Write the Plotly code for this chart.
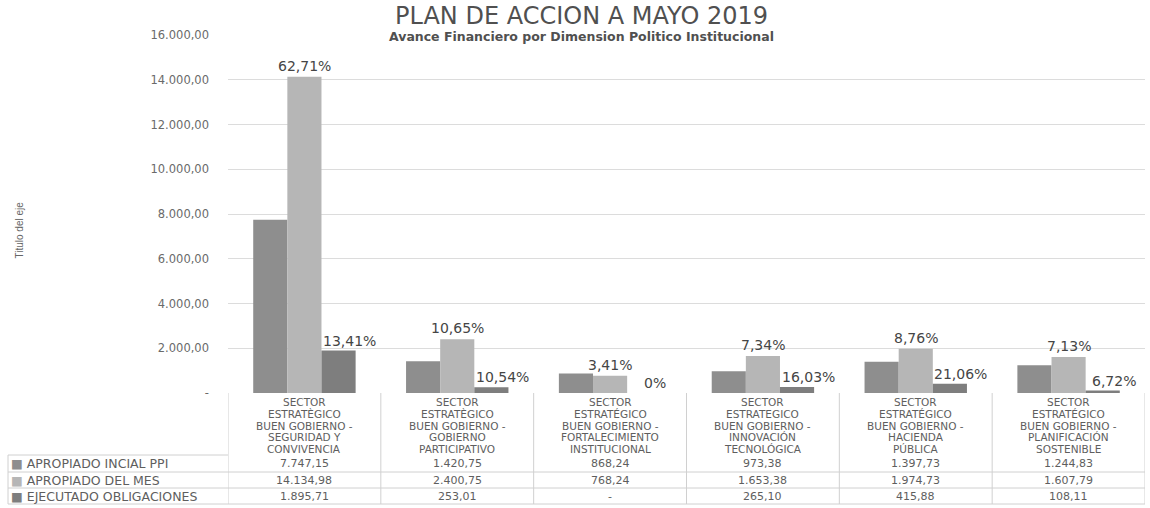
import plotly.graph_objects as go

categories = [
    "SECTOR<br>ESTRATÈGICO<br>BUEN GOBIERNO -<br>SEGURIDAD Y<br>CONVIVENCIA",
    "SECTOR<br>ESTRATÈGICO<br>BUEN GOBIERNO -<br>GOBIERNO<br>PARTICIPATIVO",
    "SECTOR<br>ESTRATÉGICO<br>BUEN GOBIERNO -<br>FORTALECIMIENTO<br>INSTITUCIONAL",
    "SECTOR<br>ESTRATEGICO<br>BUEN GOBIERNO -<br>INNOVACIÓN<br>TECNOLÓGICA",
    "SECTOR<br>ESTRATÉGICO<br>BUEN GOBIERNO -<br>HACIENDA<br>PÚBLICA",
    "SECTOR<br>ESTRATÉGICO<br>BUEN GOBIERNO -<br>PLANIFICACIÓN<br>SOSTENIBLE",
]
series_names = ["APROPIADO INCIAL PPI", "APROPIADO DEL MES", "EJECUTADO OBLIGACIONES"]
apropiado_inicial = [7747.15, 1420.75, 868.24, 973.38, 1397.73, 1244.83]
apropiado_mes = [14134.98, 2400.75, 768.24, 1653.38, 1974.73, 1607.79]
ejecutado = [1895.71, 253.01, 0, 265.10, 415.88, 108.11]
pct_mes = ["62,71%", "10,65%", "3,41%", "7,34%", "8,76%", "7,13%"]
pct_ejec = ["13,41%", "10,54%", "0%", "16,03%", "21,06%", "6,72%"]
y_ticks = [0, 2000, 4000, 6000, 8000, 10000, 12000, 14000, 16000]

colors = ["#8e8e8e", "#b6b6b6", "#7e7e7e"]
series = [apropiado_inicial, apropiado_mes, ejecutado]


def fmt(v):
    if v == 0:
        return "-"
    s = "{:,.2f}".format(v)
    return s.replace(",", "X").replace(".", ",").replace("X", ".")


W, H = 1150, 508
PLOT_L, PLOT_R, PLOT_T, PLOT_B = 228, 1145, 35, 393
ML, MR, MT, MB = PLOT_L, W - PLOT_R, PLOT_T, H - PLOT_B
PW, PH = PLOT_R - PLOT_L, PLOT_B - PLOT_T


def py(p):
    return (PLOT_B - p) / PH


def px(p):
    return (p - PLOT_L) / PW


xs = list(range(len(categories)))
bargap = 0.33
bw = (1 - bargap) / 3

fig = go.Figure()
for name, vals, col in zip(series_names, series, colors):
    fig.add_trace(go.Bar(x=xs, y=vals, name=name, marker=dict(color=col, line=dict(width=0)),
                         showlegend=False))

ann = []
text_col = "#5e5e5e"
FONT = "DejaVu Sans"
# percentage labels
for i in xs:
    ann.append(dict(x=i, y=apropiado_mes[i], xref="x", yref="y", text=pct_mes[i], showarrow=False,
                    yanchor="bottom", yshift=1, font=dict(family=FONT, size=14, color="#454545")))
    ann.append(dict(x=i + bw, y=ejecutado[i], xref="x", yref="y", text=pct_ejec[i], showarrow=False,
                    yanchor="bottom", xshift=11, yshift=0,
                    font=dict(family=FONT, size=14, color="#454545")))

# table: category headers, one annotation per line for tight spacing
row_y = [463, 480, 497]
for i, c in enumerate(categories):
    for k, line in enumerate(c.split("<br>")):
        ann.append(dict(x=i, y=py(402 + 11.8 * k), xref="x", yref="paper", text=line, showarrow=False,
                        yanchor="middle", font=dict(family=FONT, size=10.5, color=text_col)))
    for r, vals in enumerate(series):
        ann.append(dict(x=i, y=py(row_y[r]), xref="x", yref="paper", text=fmt(vals[i]),
                        showarrow=False, yanchor="middle",
                        font=dict(family=FONT, size=11, color=text_col)))

# legend keys in table
for r, (name, col) in enumerate(zip(series_names, colors)):
    ann.append(dict(x=px(9), y=py(row_y[r]), xref="paper", yref="paper",
                    text="<span style='color:%s'>■</span> %s" % (col, name), showarrow=False,
                    xanchor="left", yanchor="middle",
                    font=dict(family=FONT, size=12.5, color=text_col)))

# axis title
ann.append(dict(x=px(12), y=py(230), xref="paper", yref="paper", text="Titulo del eje", textangle=-90,
                showarrow=False, font=dict(family="Liberation Sans Narrow, Liberation Sans", size=10, color="#666")))
# title & subtitle
ann.append(dict(x=px(581), y=py(16), xref="paper", yref="paper", text="PLAN DE ACCION A MAYO 2019",
                showarrow=False, yanchor="middle", font=dict(family=FONT, size=24, color="#505050")))
ann.append(dict(x=px(581), y=py(36), xref="paper", yref="paper",
                text="<b>Avance Financiero por Dimension Politico Institucional</b>",
                showarrow=False, yanchor="middle", font=dict(family=FONT, size=12.5, color="#505050")))

shapes = []
line_col = "#d0d0d0"
TB = 504
for k in range(len(categories) + 1):
    shapes.append(dict(type="line", xref="x", yref="paper", x0=k - 0.5, x1=k - 0.5, y0=0, y1=py(TB),
                       line=dict(color=line_col, width=1)))
for p in [472, 488, TB]:
    shapes.append(dict(type="line", xref="paper", yref="paper", x0=px(8), x1=1, y0=py(p), y1=py(p),
                       line=dict(color=line_col, width=1)))
shapes.append(dict(type="line", xref="paper", yref="paper", x0=px(8), x1=0, y0=py(455), y1=py(455),
                   line=dict(color=line_col, width=1)))
shapes.append(dict(type="line", xref="paper", yref="paper", x0=px(8), x1=px(8), y0=py(455), y1=py(TB),
                   line=dict(color=line_col, width=1)))

fig.update_layout(
    width=W, height=H,
    margin=dict(l=ML, r=MR, t=MT, b=MB),
    paper_bgcolor="white", plot_bgcolor="white",
    barmode="group", bargap=bargap, bargroupgap=0,
    annotations=ann, shapes=shapes,
    xaxis=dict(range=[-0.5, len(categories) - 0.5], showticklabels=False, showgrid=False,
               zeroline=False, showline=False),
    yaxis=dict(range=[0, 16000], tickvals=y_ticks, ticktext=[fmt(v) for v in y_ticks],
               showgrid=True, gridcolor="#dcdcdc", gridwidth=1, zeroline=False, showline=False,
               ticks="", ticklabelstandoff=18,
               tickfont=dict(family=FONT, size=11.5, color="#6a6a6a")),
)
fig.write_html("out.html", config={"displayModeBar": False},
               post_script="document.body.style.margin='0px';")
